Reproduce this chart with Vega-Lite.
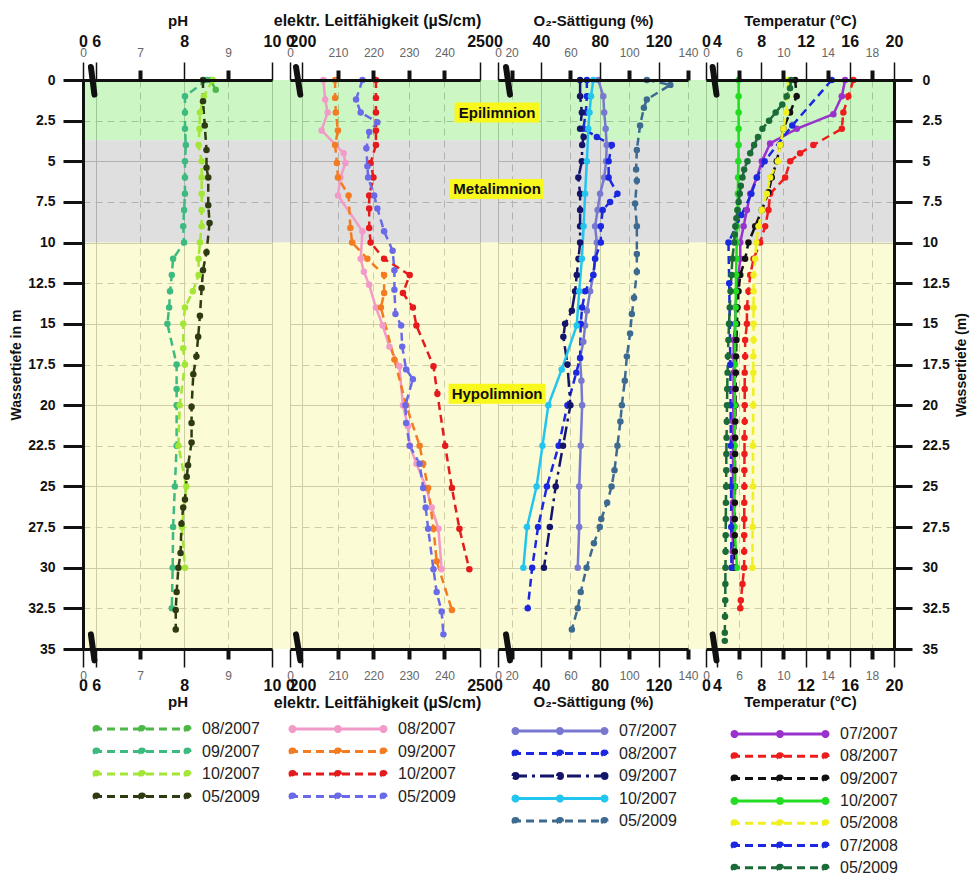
{
  "$schema": "https://vega.github.io/schema/vega-lite/v6.json",
  "background": "white",
  "padding": {"left": 9, "top": 12, "right": 5, "bottom": 5},
  "spacing": 18,
  "bounds": "flush",
  "config": {
    "font": "Liberation Sans",
    "view": {"stroke": null},
    "axis": {"labelFont": "Liberation Sans", "titleFont": "Liberation Sans"},
    "legend": {"labelFont": "Liberation Sans"},
    "text": {"font": "Liberation Sans"}
  },
  "resolve": {"scale": {"x": "independent", "color": "independent", "strokeDash": "independent", "shape": "independent"}},
  "datasets": {
    "zones": [
      {"zone": "Epilimnion", "top": 0, "bottom": 3.7},
      {"zone": "Metalimnion", "top": 3.7, "bottom": 10},
      {"zone": "Hypolimnion", "top": 10, "bottom": 35}
    ],
    "labels": [
      {"zone": "Epilimnion", "d": 2.0},
      {"zone": "Metalimnion", "d": 6.7},
      {"zone": "Hypolimnion", "d": 19.3}
    ],
    "ph": [
      {"s":"08/2007","d":0,"v":8.6},{"s":"08/2007","d":0.6,"v":8.72},
      {"s":"09/2007","d":0,"v":8.52},{"s":"09/2007","d":1,"v":8.02},{"s":"09/2007","d":2,"v":8.02},{"s":"09/2007","d":3,"v":8.02},{"s":"09/2007","d":4,"v":8.04},{"s":"09/2007","d":5,"v":8.02},{"s":"09/2007","d":6,"v":8.02},{"s":"09/2007","d":7,"v":8.02},{"s":"09/2007","d":8,"v":8.0},{"s":"09/2007","d":9,"v":7.98},{"s":"09/2007","d":10,"v":8.0},{"s":"09/2007","d":11,"v":7.75},{"s":"09/2007","d":12,"v":7.72},{"s":"09/2007","d":13,"v":7.68},{"s":"09/2007","d":14,"v":7.66},{"s":"09/2007","d":15,"v":7.62},{"s":"09/2007","d":17.5,"v":7.83},{"s":"09/2007","d":19,"v":7.83},{"s":"09/2007","d":20,"v":7.83},{"s":"09/2007","d":22.5,"v":7.83},{"s":"09/2007","d":25,"v":7.79},{"s":"09/2007","d":27.5,"v":7.75},{"s":"09/2007","d":30,"v":7.74},{"s":"09/2007","d":32.5,"v":7.72},
      {"s":"10/2007","d":0,"v":8.65},{"s":"10/2007","d":1,"v":8.45},{"s":"10/2007","d":2,"v":8.36},{"s":"10/2007","d":3,"v":8.35},{"s":"10/2007","d":4,"v":8.33},{"s":"10/2007","d":5,"v":8.4},{"s":"10/2007","d":6,"v":8.4},{"s":"10/2007","d":7,"v":8.4},{"s":"10/2007","d":8,"v":8.4},{"s":"10/2007","d":9,"v":8.4},{"s":"10/2007","d":10,"v":8.36},{"s":"10/2007","d":11,"v":8.33},{"s":"10/2007","d":12,"v":8.33},{"s":"10/2007","d":13,"v":8.2},{"s":"10/2007","d":14,"v":8.02},{"s":"10/2007","d":15,"v":7.98},{"s":"10/2007","d":16.5,"v":7.98},{"s":"10/2007","d":17.5,"v":8.02},{"s":"10/2007","d":20,"v":7.9},{"s":"10/2007","d":22.5,"v":7.87},{"s":"10/2007","d":25,"v":8.05},{"s":"10/2007","d":27.5,"v":7.95},{"s":"10/2007","d":30,"v":8.02},
      {"s":"05/2009","d":0,"v":8.43},{"s":"05/2009","d":1.3,"v":8.43},{"s":"05/2009","d":2.8,"v":8.47},{"s":"05/2009","d":4.3,"v":8.51},{"s":"05/2009","d":5.4,"v":8.51},{"s":"05/2009","d":6,"v":8.55},{"s":"05/2009","d":7.7,"v":8.55},{"s":"05/2009","d":8.8,"v":8.58},{"s":"05/2009","d":10.6,"v":8.51},{"s":"05/2009","d":11.7,"v":8.43},{"s":"05/2009","d":12.8,"v":8.4},{"s":"05/2009","d":14.5,"v":8.36},{"s":"05/2009","d":15.8,"v":8.32},{"s":"05/2009","d":17,"v":8.28},{"s":"05/2009","d":18.1,"v":8.21},{"s":"05/2009","d":20.1,"v":8.17},{"s":"05/2009","d":21.1,"v":8.17},{"s":"05/2009","d":22.3,"v":8.17},{"s":"05/2009","d":23.7,"v":8.09},{"s":"05/2009","d":24.4,"v":8.06},{"s":"05/2009","d":25.8,"v":8.02},{"s":"05/2009","d":26.3,"v":7.98},{"s":"05/2009","d":27.3,"v":7.94},{"s":"05/2009","d":29.1,"v":7.92},{"s":"05/2009","d":30,"v":7.87},{"s":"05/2009","d":31.5,"v":7.83},{"s":"05/2009","d":32.6,"v":7.81},{"s":"05/2009","d":33.8,"v":7.81}
    ],
    "cond": [
      {"s":"08/2007","d":0,"v":205.9},{"s":"08/2007","d":1.2,"v":206.4},{"s":"08/2007","d":2,"v":207.1},{"s":"08/2007","d":3.1,"v":205.4},{"s":"08/2007","d":4.5,"v":211.6},{"s":"08/2007","d":5.1,"v":212.1},{"s":"08/2007","d":6,"v":210.7},{"s":"08/2007","d":7.1,"v":210},{"s":"08/2007","d":9.3,"v":216.9},{"s":"08/2007","d":11,"v":216.4},{"s":"08/2007","d":11.8,"v":217.3},{"s":"08/2007","d":12.6,"v":218.8},{"s":"08/2007","d":14,"v":220.7},{"s":"08/2007","d":15.1,"v":222.6},{"s":"08/2007","d":16.4,"v":224.5},{"s":"08/2007","d":17.6,"v":227.3},{"s":"08/2007","d":20,"v":228.3},{"s":"08/2007","d":21.3,"v":229.7},{"s":"08/2007","d":22.5,"v":230.2},{"s":"08/2007","d":23.6,"v":232.1},{"s":"08/2007","d":25.1,"v":234.9},{"s":"08/2007","d":26.3,"v":236.4},{"s":"08/2007","d":27.6,"v":238.3},{"s":"08/2007","d":30.1,"v":239.2},
      {"s":"09/2007","d":0,"v":209.2},{"s":"09/2007","d":1.1,"v":209.2},{"s":"09/2007","d":2,"v":209.4},{"s":"09/2007","d":3.1,"v":210},{"s":"09/2007","d":4,"v":209.2},{"s":"09/2007","d":5.1,"v":209.7},{"s":"09/2007","d":6,"v":210},{"s":"09/2007","d":7.1,"v":213},{"s":"09/2007","d":9.1,"v":213.5},{"s":"09/2007","d":10,"v":214},{"s":"09/2007","d":11,"v":218.3},{"s":"09/2007","d":12,"v":223},{"s":"09/2007","d":13.1,"v":223},{"s":"09/2007","d":14,"v":222.1},{"s":"09/2007","d":17.2,"v":225.9},{"s":"09/2007","d":20,"v":229.2},{"s":"09/2007","d":22.5,"v":233},{"s":"09/2007","d":23.6,"v":234},{"s":"09/2007","d":25.1,"v":235.4},{"s":"09/2007","d":27.6,"v":236.9},{"s":"09/2007","d":29.6,"v":237.8},{"s":"09/2007","d":32.6,"v":242.1},
      {"s":"10/2007","d":0,"v":220.7},{"s":"10/2007","d":1.1,"v":220.7},{"s":"10/2007","d":2,"v":220.7},{"s":"10/2007","d":3.1,"v":220.7},{"s":"10/2007","d":4,"v":220.7},{"s":"10/2007","d":5.1,"v":219.2},{"s":"10/2007","d":6,"v":220},{"s":"10/2007","d":7.1,"v":218.8},{"s":"10/2007","d":7.9,"v":218.8},{"s":"10/2007","d":9.1,"v":218.8},{"s":"10/2007","d":10,"v":219.2},{"s":"10/2007","d":11,"v":223},{"s":"10/2007","d":12,"v":230.2},{"s":"10/2007","d":13.1,"v":228.3},{"s":"10/2007","d":14,"v":231.1},{"s":"10/2007","d":15.1,"v":232.1},{"s":"10/2007","d":17.6,"v":236.9},{"s":"10/2007","d":19.3,"v":238},{"s":"10/2007","d":22.5,"v":240.2},{"s":"10/2007","d":25.1,"v":242.1},{"s":"10/2007","d":27.6,"v":244.2},{"s":"10/2007","d":30.1,"v":247},
      {"s":"05/2009","d":0,"v":216.9},{"s":"05/2009","d":1.2,"v":215.1},{"s":"05/2009","d":2,"v":216.4},{"s":"05/2009","d":2.6,"v":221.1},{"s":"05/2009","d":3.2,"v":218.8},{"s":"05/2009","d":4.2,"v":218},{"s":"05/2009","d":5.3,"v":218.3},{"s":"05/2009","d":6,"v":218.5},{"s":"05/2009","d":7.1,"v":220.2},{"s":"05/2009","d":7.9,"v":221.1},{"s":"05/2009","d":9.3,"v":223},{"s":"05/2009","d":10.5,"v":225.4},{"s":"05/2009","d":11.7,"v":225.9},{"s":"05/2009","d":12.9,"v":225.9},{"s":"05/2009","d":14.4,"v":226.2},{"s":"05/2009","d":15.1,"v":227.8},{"s":"05/2009","d":16.4,"v":228.1},{"s":"05/2009","d":17.8,"v":229.2},{"s":"05/2009","d":18.4,"v":231.1},{"s":"05/2009","d":20,"v":229},{"s":"05/2009","d":21.1,"v":229.2},{"s":"05/2009","d":22.5,"v":230.2},{"s":"05/2009","d":23.6,"v":233},{"s":"05/2009","d":25.1,"v":234},{"s":"05/2009","d":26.3,"v":234.7},{"s":"05/2009","d":27.6,"v":235.4},{"s":"05/2009","d":30.1,"v":236.9},{"s":"05/2009","d":31.5,"v":237.8},{"s":"05/2009","d":32.7,"v":239.2},{"s":"05/2009","d":34.1,"v":239.7}
    ],
    "o2": [
      {"s":"07/2007","d":0,"v":79},{"s":"07/2007","d":1,"v":82.4},{"s":"07/2007","d":2,"v":83},{"s":"07/2007","d":3,"v":84},{"s":"07/2007","d":4,"v":84.7},{"s":"07/2007","d":5,"v":84.3},{"s":"07/2007","d":6,"v":83},{"s":"07/2007","d":7,"v":80.2},{"s":"07/2007","d":8,"v":78.5},{"s":"07/2007","d":9,"v":76.8},{"s":"07/2007","d":10,"v":78},{"s":"07/2007","d":11,"v":76.8},{"s":"07/2007","d":12,"v":75.6},{"s":"07/2007","d":13,"v":73.4},{"s":"07/2007","d":14.2,"v":71.2},{"s":"07/2007","d":15.1,"v":70},{"s":"07/2007","d":16.1,"v":68.8},{"s":"07/2007","d":17.1,"v":66.6},{"s":"07/2007","d":18.5,"v":67.5},{"s":"07/2007","d":20,"v":68},{"s":"07/2007","d":22.5,"v":67},{"s":"07/2007","d":25,"v":66},{"s":"07/2007","d":27.5,"v":66},{"s":"07/2007","d":30,"v":65},
      {"s":"08/2007","d":0,"v":71.2},{"s":"08/2007","d":1,"v":71.2},{"s":"08/2007","d":2,"v":70.5},{"s":"08/2007","d":3,"v":68.8},{"s":"08/2007","d":3.5,"v":78},{"s":"08/2007","d":4,"v":88.2},{"s":"08/2007","d":5,"v":86},{"s":"08/2007","d":6,"v":86},{"s":"08/2007","d":7,"v":92},{"s":"08/2007","d":7.5,"v":87},{"s":"08/2007","d":8,"v":82},{"s":"08/2007","d":9,"v":80.7},{"s":"08/2007","d":10,"v":80.7},{"s":"08/2007","d":11,"v":76.8},{"s":"08/2007","d":12,"v":75.6},{"s":"08/2007","d":13,"v":70},{"s":"08/2007","d":14,"v":68},{"s":"08/2007","d":15,"v":67},{"s":"08/2007","d":17.1,"v":66.6},{"s":"08/2007","d":18,"v":64},{"s":"08/2007","d":20,"v":58},{"s":"08/2007","d":22.5,"v":52},{"s":"08/2007","d":25,"v":44},{"s":"08/2007","d":27.5,"v":38},{"s":"08/2007","d":30,"v":34},{"s":"08/2007","d":32.5,"v":31},
      {"s":"09/2007","d":0,"v":66.6},{"s":"09/2007","d":1,"v":66.6},{"s":"09/2007","d":2,"v":67.8},{"s":"09/2007","d":3,"v":66.6},{"s":"09/2007","d":3.5,"v":69},{"s":"09/2007","d":4,"v":68},{"s":"09/2007","d":5,"v":67.8},{"s":"09/2007","d":6,"v":65.4},{"s":"09/2007","d":7,"v":66.6},{"s":"09/2007","d":8,"v":66.6},{"s":"09/2007","d":9,"v":66.6},{"s":"09/2007","d":10,"v":66.6},{"s":"09/2007","d":11,"v":65.5},{"s":"09/2007","d":12,"v":64.3},{"s":"09/2007","d":13,"v":63.2},{"s":"09/2007","d":14.2,"v":61},{"s":"09/2007","d":15,"v":56.4},{"s":"09/2007","d":15.8,"v":55.2},{"s":"09/2007","d":17.5,"v":58},{"s":"09/2007","d":20,"v":60},{"s":"09/2007","d":22.5,"v":55},{"s":"09/2007","d":25,"v":50},{"s":"09/2007","d":27.5,"v":46},{"s":"09/2007","d":30,"v":42},
      {"s":"10/2007","d":0,"v":75.6},{"s":"10/2007","d":1,"v":74},{"s":"10/2007","d":2,"v":73},{"s":"10/2007","d":3,"v":72.2},{"s":"10/2007","d":5,"v":71.2},{"s":"10/2007","d":7,"v":70},{"s":"10/2007","d":9,"v":69},{"s":"10/2007","d":11,"v":67.8},{"s":"10/2007","d":13,"v":66},{"s":"10/2007","d":15.1,"v":64.3},{"s":"10/2007","d":17.8,"v":54.1},{"s":"10/2007","d":20,"v":45},{"s":"10/2007","d":22.5,"v":41},{"s":"10/2007","d":25,"v":37},{"s":"10/2007","d":27.5,"v":30.5},{"s":"10/2007","d":30,"v":28},
      {"s":"05/2009","d":0,"v":112},{"s":"05/2009","d":0.3,"v":128},{"s":"05/2009","d":1.2,"v":112},{"s":"05/2009","d":1.7,"v":110},{"s":"05/2009","d":2.8,"v":107.4},{"s":"05/2009","d":4.3,"v":105.2},{"s":"05/2009","d":5.5,"v":104.7},{"s":"05/2009","d":6.2,"v":105.2},{"s":"05/2009","d":7.6,"v":104},{"s":"05/2009","d":9,"v":105.2},{"s":"05/2009","d":10.7,"v":105.2},{"s":"05/2009","d":11.8,"v":105.2},{"s":"05/2009","d":13.4,"v":103.3},{"s":"05/2009","d":14.4,"v":101.8},{"s":"05/2009","d":15.6,"v":100.6},{"s":"05/2009","d":17,"v":98.4},{"s":"05/2009","d":18.5,"v":97},{"s":"05/2009","d":20,"v":95},{"s":"05/2009","d":21,"v":94},{"s":"05/2009","d":22.5,"v":92},{"s":"05/2009","d":24,"v":90},{"s":"05/2009","d":25,"v":88},{"s":"05/2009","d":26,"v":85},{"s":"05/2009","d":27,"v":81},{"s":"05/2009","d":27.5,"v":80},{"s":"05/2009","d":28.5,"v":76},{"s":"05/2009","d":30,"v":71},{"s":"05/2009","d":31.5,"v":67},{"s":"05/2009","d":32.5,"v":65},{"s":"05/2009","d":33.8,"v":61}
    ],
    "temp": [
      {"s":"07/2007","d":0,"v":15.58},{"s":"07/2007","d":1,"v":15.28},{"s":"07/2007","d":2.1,"v":14.52},{"s":"07/2007","d":3,"v":11.21},{"s":"07/2007","d":3.9,"v":8.8},{"s":"07/2007","d":5,"v":8.05},{"s":"07/2007","d":6,"v":7.6},{"s":"07/2007","d":7,"v":7.0},{"s":"07/2007","d":8,"v":6.7},{"s":"07/2007","d":9,"v":6.4},{"s":"07/2007","d":10,"v":6.1},{"s":"07/2007","d":11,"v":6.1},{"s":"07/2007","d":12,"v":5.94},{"s":"07/2007","d":13,"v":5.8},{"s":"07/2007","d":14,"v":5.65},{"s":"07/2007","d":15,"v":5.65},{"s":"07/2007","d":16,"v":5.5},{"s":"07/2007","d":17,"v":5.5},{"s":"07/2007","d":18,"v":5.5},{"s":"07/2007","d":19,"v":5.48},{"s":"07/2007","d":20,"v":5.47},{"s":"07/2007","d":21,"v":5.46},{"s":"07/2007","d":22,"v":5.45},{"s":"07/2007","d":23,"v":5.45},{"s":"07/2007","d":24,"v":5.44},{"s":"07/2007","d":25,"v":5.44},{"s":"07/2007","d":26,"v":5.43},{"s":"07/2007","d":27,"v":5.43},{"s":"07/2007","d":28,"v":5.42},{"s":"07/2007","d":29,"v":5.42},{"s":"07/2007","d":30,"v":5.42},
      {"s":"08/2007","d":0,"v":16.33},{"s":"08/2007","d":1,"v":15.87},{"s":"08/2007","d":2,"v":15.42},{"s":"08/2007","d":3,"v":15.28},{"s":"08/2007","d":4,"v":12.71},{"s":"08/2007","d":4.5,"v":11.51},{"s":"08/2007","d":5,"v":10.61},{"s":"08/2007","d":6,"v":10.16},{"s":"08/2007","d":7,"v":8.8},{"s":"08/2007","d":8,"v":8.65},{"s":"08/2007","d":9,"v":8.35},{"s":"08/2007","d":10,"v":7.9},{"s":"08/2007","d":11,"v":7.3},{"s":"08/2007","d":12,"v":7.0},{"s":"08/2007","d":13,"v":6.84},{"s":"08/2007","d":14,"v":6.7},{"s":"08/2007","d":15,"v":6.7},{"s":"08/2007","d":16,"v":6.54},{"s":"08/2007","d":17,"v":6.54},{"s":"08/2007","d":18,"v":6.5},{"s":"08/2007","d":19,"v":6.5},{"s":"08/2007","d":20,"v":6.5},{"s":"08/2007","d":21,"v":6.5},{"s":"08/2007","d":22,"v":6.48},{"s":"08/2007","d":23,"v":6.48},{"s":"08/2007","d":24,"v":6.47},{"s":"08/2007","d":25,"v":6.47},{"s":"08/2007","d":26,"v":6.46},{"s":"08/2007","d":27,"v":6.46},{"s":"08/2007","d":28,"v":6.45},{"s":"08/2007","d":29,"v":6.45},{"s":"08/2007","d":30,"v":6.45},{"s":"08/2007","d":31,"v":6.3},{"s":"08/2007","d":32,"v":6.15},{"s":"08/2007","d":32.5,"v":6.1},
      {"s":"09/2007","d":0,"v":11.06},{"s":"09/2007","d":1,"v":11.2},{"s":"09/2007","d":2,"v":10.6},{"s":"09/2007","d":3,"v":10.0},{"s":"09/2007","d":4,"v":9.7},{"s":"09/2007","d":5,"v":9.4},{"s":"09/2007","d":6,"v":8.95},{"s":"09/2007","d":6.9,"v":8.65},{"s":"09/2007","d":8,"v":8.05},{"s":"09/2007","d":9,"v":7.45},{"s":"09/2007","d":10,"v":6.84},{"s":"09/2007","d":11,"v":6.54},{"s":"09/2007","d":12,"v":6.1},{"s":"09/2007","d":13,"v":5.94},{"s":"09/2007","d":14,"v":5.85},{"s":"09/2007","d":15,"v":5.8},{"s":"09/2007","d":16,"v":5.75},{"s":"09/2007","d":17,"v":5.72},{"s":"09/2007","d":18,"v":5.7},{"s":"09/2007","d":19,"v":5.68},{"s":"09/2007","d":20,"v":5.66},{"s":"09/2007","d":21,"v":5.65},{"s":"09/2007","d":22,"v":5.64},{"s":"09/2007","d":23,"v":5.63},{"s":"09/2007","d":24,"v":5.62},{"s":"09/2007","d":25,"v":5.62},{"s":"09/2007","d":26,"v":5.61},{"s":"09/2007","d":27,"v":5.6},{"s":"09/2007","d":28,"v":5.6},{"s":"09/2007","d":29,"v":5.6},{"s":"09/2007","d":30,"v":5.6},
      {"s":"10/2007","d":0,"v":5.95},{"s":"10/2007","d":1,"v":5.95},{"s":"10/2007","d":2,"v":5.95},{"s":"10/2007","d":3,"v":5.95},{"s":"10/2007","d":4,"v":5.95},{"s":"10/2007","d":5,"v":5.92},{"s":"10/2007","d":6,"v":5.9},{"s":"10/2007","d":7,"v":5.88},{"s":"10/2007","d":8,"v":5.85},{"s":"10/2007","d":9,"v":5.8},{"s":"10/2007","d":10,"v":5.78},{"s":"10/2007","d":11,"v":5.75},{"s":"10/2007","d":12,"v":5.72},{"s":"10/2007","d":13,"v":5.7},{"s":"10/2007","d":14,"v":5.68},{"s":"10/2007","d":15,"v":5.66},{"s":"10/2007","d":17.5,"v":5.62},{"s":"10/2007","d":20,"v":5.6},{"s":"10/2007","d":22.5,"v":5.6},{"s":"10/2007","d":25,"v":5.58},{"s":"10/2007","d":27.5,"v":5.58},{"s":"10/2007","d":30,"v":5.8},
      {"s":"05/2008","d":0,"v":10.45},{"s":"05/2008","d":1,"v":10.35},{"s":"05/2008","d":2,"v":10.25},{"s":"05/2008","d":3,"v":10.0},{"s":"05/2008","d":4,"v":9.7},{"s":"05/2008","d":5,"v":9.5},{"s":"05/2008","d":6,"v":8.8},{"s":"05/2008","d":7,"v":8.5},{"s":"05/2008","d":8,"v":8.05},{"s":"05/2008","d":9,"v":7.75},{"s":"05/2008","d":10,"v":7.54},{"s":"05/2008","d":11,"v":7.45},{"s":"05/2008","d":12,"v":7.3},{"s":"05/2008","d":13,"v":7.3},{"s":"05/2008","d":14,"v":7.3},{"s":"05/2008","d":15,"v":7.3},{"s":"05/2008","d":16,"v":7.3},{"s":"05/2008","d":17,"v":7.28},{"s":"05/2008","d":18,"v":7.28},{"s":"05/2008","d":20,"v":7.27},{"s":"05/2008","d":22.5,"v":7.25},{"s":"05/2008","d":25,"v":7.25},{"s":"05/2008","d":27.5,"v":7.22},{"s":"05/2008","d":30,"v":7.2},
      {"s":"07/2008","d":0,"v":14.37},{"s":"07/2008","d":2.8,"v":10.8},{"s":"07/2008","d":5,"v":8.3},{"s":"07/2008","d":6,"v":7.6},{"s":"07/2008","d":7,"v":7.1},{"s":"07/2008","d":8.3,"v":6.2},{"s":"07/2008","d":10,"v":5.03},{"s":"07/2008","d":12.5,"v":5.1},{"s":"07/2008","d":15,"v":5.15},{"s":"07/2008","d":17.5,"v":5.2},{"s":"07/2008","d":20,"v":5.22},{"s":"07/2008","d":22.5,"v":5.25},{"s":"07/2008","d":25,"v":5.27},{"s":"07/2008","d":27.5,"v":5.28},{"s":"07/2008","d":30,"v":5.3},
      {"s":"05/2009","d":0,"v":10.7},{"s":"05/2009","d":0.5,"v":10.6},{"s":"05/2009","d":1,"v":10.3},{"s":"05/2009","d":1.5,"v":9.9},{"s":"05/2009","d":2,"v":9.3},{"s":"05/2009","d":2.5,"v":8.7},{"s":"05/2009","d":3,"v":8.1},{"s":"05/2009","d":3.5,"v":7.7},{"s":"05/2009","d":4,"v":7.35},{"s":"05/2009","d":4.5,"v":7.0},{"s":"05/2009","d":5,"v":6.75},{"s":"05/2009","d":5.5,"v":6.45},{"s":"05/2009","d":6,"v":6.3},{"s":"05/2009","d":6.5,"v":6.15},{"s":"05/2009","d":7,"v":6.05},{"s":"05/2009","d":7.5,"v":5.95},{"s":"05/2009","d":8,"v":5.85},{"s":"05/2009","d":8.5,"v":5.75},{"s":"05/2009","d":9,"v":5.65},{"s":"05/2009","d":9.5,"v":5.6},{"s":"05/2009","d":10,"v":5.55},{"s":"05/2009","d":11,"v":5.38},{"s":"05/2009","d":12,"v":5.3},{"s":"05/2009","d":13,"v":5.22},{"s":"05/2009","d":14,"v":5.15},{"s":"05/2009","d":15,"v":5.08},{"s":"05/2009","d":16,"v":5.03},{"s":"05/2009","d":17,"v":4.98},{"s":"05/2009","d":18,"v":4.95},{"s":"05/2009","d":19,"v":4.92},{"s":"05/2009","d":20,"v":4.9},{"s":"05/2009","d":21,"v":4.88},{"s":"05/2009","d":22,"v":4.86},{"s":"05/2009","d":23,"v":4.84},{"s":"05/2009","d":24,"v":4.83},{"s":"05/2009","d":25,"v":4.82},{"s":"05/2009","d":26,"v":4.8},{"s":"05/2009","d":27,"v":4.79},{"s":"05/2009","d":28,"v":4.78},{"s":"05/2009","d":29,"v":4.77},{"s":"05/2009","d":30,"v":4.76},{"s":"05/2009","d":31,"v":4.75},{"s":"05/2009","d":32,"v":4.74},{"s":"05/2009","d":33,"v":4.72},{"s":"05/2009","d":34,"v":4.7},{"s":"05/2009","d":34.5,"v":4.7}
    ]
  },
  "hconcat": [
    {
      "width": 189, "height": 569,
      "data": {"name": "ph"},
      "resolve": {"axis": {"x": "independent", "y": "independent"}},
      "layer": [
        {"data": {"name": "zones"}, "mark": {"type": "rect", "opacity": 0.55},
         "encoding": {
           "x": {"datum": 5.7, "type": "quantitative", "axis": null},
           "x2": {"datum": 10.41},
           "y": {"field": "top", "type": "quantitative", "scale": {"domain": [0, 35], "reverse": true, "nice": false, "zero": false}, "axis": null},
           "y2": {"field": "bottom"},
           "fill": {"field": "zone", "type": "nominal", "scale": {"domain": ["Epilimnion", "Metalimnion", "Hypolimnion"], "range": ["#a2f094", "#c4c4c4", "#f8f8b4"]}, "legend": null}
         }},
        {"mark": {"type": "point", "opacity": 0},
         "encoding": {
           "x": {"field": "v", "type": "quantitative", "scale": {"domain": [5.7, 10], "nice": false, "zero": false}, "axis": {"orient": "top", "values": [5.7, 6, 8, 10], "grid": true, "gridColor": "#999999", "domain": false, "ticks": false, "labels": false, "title": null, "zindex": 0}},
           "y": {"field": "d", "type": "quantitative", "axis": {"orient": "left", "values": [5, 10, 15, 20, 25, 30], "grid": true, "gridColor": "#999999", "domain": false, "ticks": false, "labels": false, "title": null, "zindex": 0}}
         }},
        {"mark": {"type": "point", "opacity": 0},
         "encoding": {
           "x": {"field": "v", "type": "quantitative", "axis": {"orient": "top", "values": [7, 9], "grid": true, "gridColor": "#999999", "gridDash": [7, 5], "domain": false, "ticks": false, "labels": false, "title": null, "zindex": 0}},
           "y": {"field": "d", "type": "quantitative", "axis": {"orient": "left", "values": [2.5, 7.5, 12.5, 17.5, 22.5, 27.5, 32.5], "grid": true, "gridColor": "#999999", "gridDash": [7, 5], "domain": false, "ticks": false, "labels": false, "title": null, "zindex": 0}}
         }},
        {"mark": {"type": "line", "strokeWidth": 2.5},
         "encoding": {
           "x": {"field": "v", "type": "quantitative", "axis": {"orient": "top", "values": [5.7, 6, 8, 10], "format": "d", "labelExpr": "datum.value < 5.75 ? '0' : datum.label", "title": "pH", "titleFontSize": 15, "titleFontWeight": "bold", "titleColor": "#111", "titlePadding": 5, "labelFontSize": 16, "labelFontWeight": "bold", "labelColor": "#111", "labelPadding": 13, "labelFlush": false, "labelOverlap": false, "labelBound": false, "tickSize": 18, "tickWidth": 1.5, "tickColor": "#111", "domain": true, "domainColor": "#111", "domainWidth": 3, "grid": false, "zindex": 1}},
           "y": {"field": "d", "type": "quantitative", "axis": {"orient": "left", "values": [0, 2.5, 5, 7.5, 10, 12.5, 15, 17.5, 20, 22.5, 25, 27.5, 30, 32.5, 35], "format": ".3~g", "title": "Wassertiefe in m", "titleFontSize": 14, "titleFontWeight": "bold", "titleColor": "#111", "titlePadding": 4, "labelFontSize": 14, "labelFontWeight": "bold", "labelColor": "#111", "labelPadding": 8, "labelFlush": false, "labelOverlap": false, "tickSize": 20, "tickWidth": 3, "tickColor": "#111", "domain": true, "domainColor": "#111", "domainWidth": 3, "grid": false, "zindex": 1}},
           "order": {"field": "d", "type": "quantitative"},
           "color": {"field": "s", "type": "nominal", "scale": {"domain": ["08/2007", "09/2007", "10/2007", "05/2009"], "range": ["#4cb848", "#3dba80", "#a3e635", "#2e3a12"]},
             "legend": {"orient": "none", "legendX": 14, "legendY": 641, "direction": "vertical", "title": null, "padding": 0,
               "symbolType": "M-9.6,0L9.6,0M-9.6,0A0.5,0.5 0 1,1 -8.6,0A0.5,0.5 0 1,1 -9.6,0ZM-0.5,0A0.5,0.5 0 1,1 0.5,0A0.5,0.5 0 1,1 -0.5,0ZM8.6,0A0.5,0.5 0 1,1 9.6,0A0.5,0.5 0 1,1 8.6,0Z",
               "symbolSize": 100, "symbolStrokeWidth": 3, "symbolOffset": 37, "labelFontSize": 16, "labelColor": "#222", "labelOffset": 52, "rowPadding": 4.5,
               "encode": {"symbols": {"update": {"fill": {"signal": "datum.value=='08/2007'?'#4cb848':datum.value=='09/2007'?'#3dba80':datum.value=='10/2007'?'#a3e635':'#2e3a12'"}, "strokeDash": {"value": [14, 9]}}}}}},
           "strokeDash": {"field": "s", "type": "nominal", "scale": {"domain": ["08/2007", "09/2007", "10/2007", "05/2009"], "range": [[8, 5], [8, 5], [8, 5], [8, 5]]}, "legend": null}
         }},
        {"mark": {"type": "point", "filled": true, "size": 42, "opacity": 1},
         "encoding": {
           "x": {"field": "v", "type": "quantitative", "axis": {"orient": "bottom", "values": [5.7, 6, 8, 10], "format": "d", "labelExpr": "datum.value < 5.75 ? '0' : datum.label", "title": "pH", "titleFontSize": 15, "titleFontWeight": "bold", "titleColor": "#111", "titlePadding": 1, "labelFontSize": 16, "labelFontWeight": "bold", "labelColor": "#111", "labelPadding": 10, "labelFlush": false, "labelOverlap": false, "labelBound": false, "tickSize": 18, "tickWidth": 1.5, "tickColor": "#111", "domain": true, "domainColor": "#111", "domainWidth": 3, "grid": false, "zindex": 1}},
           "y": {"field": "d", "type": "quantitative", "axis": null},
           "color": {"field": "s", "type": "nominal", "legend": null}
         }},
        {"data": {"values": [{}]}, "mark": {"type": "rule", "strokeWidth": 6, "color": "#111", "strokeCap": "round"},
         "encoding": {
           "x": {"datum": 5.88, "type": "quantitative", "axis": {"orient": "top", "values": [5.7, 7, 9], "format": "d", "labelExpr": "datum.value < 5.75 ? '0' : datum.label", "title": null, "labelFontSize": 12, "labelColor": "#666", "labelPadding": 11, "labelFlush": false, "labelOverlap": false, "tickSize": 10, "tickWidth": 4, "tickColor": "#111", "tickOpacity": {"condition": {"test": "datum.value < 5.75", "value": 0}, "value": 1}, "domain": false, "grid": false, "zindex": 1}},
           "x2": {"datum": 5.96},
           "y": {"datum": -0.8, "type": "quantitative", "axis": null},
           "y2": {"datum": 0.9}
         }},
        {"data": {"values": [{}]}, "mark": {"type": "rule", "strokeWidth": 6, "color": "#111", "strokeCap": "round"},
         "encoding": {
           "x": {"datum": 5.88, "type": "quantitative", "axis": {"orient": "bottom", "values": [5.7, 7, 9], "format": "d", "labelExpr": "datum.value < 5.75 ? '0' : datum.label", "title": null, "labelFontSize": 12, "labelColor": "#666", "labelPadding": 11, "labelFlush": false, "labelOverlap": false, "tickSize": 10, "tickWidth": 4, "tickColor": "#111", "tickOpacity": {"condition": {"test": "datum.value < 5.75", "value": 0}, "value": 1}, "domain": false, "grid": false, "zindex": 1}},
           "x2": {"datum": 5.96},
           "y": {"datum": 34.1, "type": "quantitative", "axis": null},
           "y2": {"datum": 35.7}
         }}
      ]
    },
    {
      "width": 190, "height": 569,
      "data": {"name": "cond"},
      "resolve": {"axis": {"x": "independent", "y": "independent"}},
      "layer": [
        {"data": {"name": "zones"}, "mark": {"type": "rect", "opacity": 0.55},
         "encoding": {
           "x": {"datum": 196.5, "type": "quantitative", "axis": null},
           "x2": {"datum": 255.1},
           "y": {"field": "top", "type": "quantitative", "scale": {"domain": [0, 35], "reverse": true, "nice": false, "zero": false}, "axis": null},
           "y2": {"field": "bottom"},
           "fill": {"field": "zone", "type": "nominal", "scale": {"domain": ["Epilimnion", "Metalimnion", "Hypolimnion"], "range": ["#a2f094", "#c4c4c4", "#f8f8b4"]}, "legend": null}
         }},
        {"mark": {"type": "point", "opacity": 0},
         "encoding": {
           "x": {"field": "v", "type": "quantitative", "scale": {"domain": [196.5, 250], "nice": false, "zero": false}, "axis": {"orient": "top", "values": [196.5, 200, 250], "grid": true, "gridColor": "#999999", "domain": false, "ticks": false, "labels": false, "title": null, "zindex": 0}},
           "y": {"field": "d", "type": "quantitative", "axis": {"orient": "left", "values": [5, 10, 15, 20, 25, 30], "grid": true, "gridColor": "#999999", "domain": false, "ticks": false, "labels": false, "title": null, "zindex": 0}}
         }},
        {"mark": {"type": "point", "opacity": 0},
         "encoding": {
           "x": {"field": "v", "type": "quantitative", "axis": {"orient": "top", "values": [210, 220, 230, 240], "grid": true, "gridColor": "#999999", "gridDash": [7, 5], "domain": false, "ticks": false, "labels": false, "title": null, "zindex": 0}},
           "y": {"field": "d", "type": "quantitative", "axis": {"orient": "left", "values": [2.5, 7.5, 12.5, 17.5, 22.5, 27.5, 32.5], "grid": true, "gridColor": "#999999", "gridDash": [7, 5], "domain": false, "ticks": false, "labels": false, "title": null, "zindex": 0}}
         }},
        {"mark": {"type": "line", "strokeWidth": 2.5},
         "encoding": {
           "x": {"field": "v", "type": "quantitative", "axis": {"orient": "top", "values": [196.5, 200, 250], "format": "d", "labelExpr": "datum.value < 197 ? '0' : datum.label", "title": "elektr. Leitfähigkeit (µS/cm)", "titleX": 87, "titleFontSize": 16, "titleFontWeight": "bold", "titleColor": "#111", "titlePadding": 5, "labelFontSize": 16, "labelFontWeight": "bold", "labelColor": "#111", "labelPadding": 13, "labelFlush": false, "labelOverlap": false, "labelBound": false, "tickSize": 18, "tickWidth": 1.5, "tickColor": "#111", "domain": true, "domainColor": "#111", "domainWidth": 3, "grid": false, "zindex": 1}},
           "y": {"field": "d", "type": "quantitative", "axis": null},
           "order": {"field": "d", "type": "quantitative"},
           "color": {"field": "s", "type": "nominal", "scale": {"domain": ["08/2007", "09/2007", "10/2007", "05/2009"], "range": ["#f29ac8", "#f37b21", "#e41a1c", "#6a6ae8"]},
             "legend": {"orient": "none", "legendX": 3, "legendY": 641, "direction": "vertical", "title": null, "padding": 0,
               "symbolType": "M-9.6,0L9.6,0M-9.6,0A0.5,0.5 0 1,1 -8.6,0A0.5,0.5 0 1,1 -9.6,0ZM-0.5,0A0.5,0.5 0 1,1 0.5,0A0.5,0.5 0 1,1 -0.5,0ZM8.6,0A0.5,0.5 0 1,1 9.6,0A0.5,0.5 0 1,1 8.6,0Z",
               "symbolSize": 100, "symbolStrokeWidth": 3, "symbolOffset": 37, "labelFontSize": 16, "labelColor": "#222", "labelOffset": 52, "rowPadding": 4.5,
               "encode": {"symbols": {"update": {"fill": {"signal": "datum.value=='08/2007'?'#f29ac8':datum.value=='09/2007'?'#f37b21':datum.value=='10/2007'?'#e41a1c':'#6a6ae8'"}, "strokeDash": {"signal": "datum.value=='08/2007' ? [1,0] : [14,9]"}}}}}},
           "strokeDash": {"field": "s", "type": "nominal", "scale": {"domain": ["08/2007", "09/2007", "10/2007", "05/2009"], "range": [[1, 0], [8, 5], [8, 5], [8, 5]]}, "legend": null}
         }},
        {"mark": {"type": "point", "filled": true, "size": 42, "opacity": 1},
         "encoding": {
           "x": {"field": "v", "type": "quantitative", "axis": {"orient": "bottom", "values": [196.5, 200, 250], "format": "d", "labelExpr": "datum.value < 197 ? '0' : datum.label", "title": "elektr. Leitfähigkeit (µS/cm)", "titleX": 87, "titleFontSize": 16, "titleFontWeight": "bold", "titleColor": "#111", "titlePadding": 1, "labelFontSize": 16, "labelFontWeight": "bold", "labelColor": "#111", "labelPadding": 10, "labelFlush": false, "labelOverlap": false, "labelBound": false, "tickSize": 18, "tickWidth": 1.5, "tickColor": "#111", "domain": true, "domainColor": "#111", "domainWidth": 3, "grid": false, "zindex": 1}},
           "y": {"field": "d", "type": "quantitative", "axis": null},
           "color": {"field": "s", "type": "nominal", "legend": null}
         }},
        {"data": {"values": [{}]}, "mark": {"type": "rule", "strokeWidth": 6, "color": "#111", "strokeCap": "round"},
         "encoding": {
           "x": {"datum": 198.2, "type": "quantitative", "axis": {"orient": "top", "values": [196.5, 210, 220, 230, 240], "format": "d", "labelExpr": "datum.value < 197 ? '0' : datum.label", "title": null, "labelFontSize": 12, "labelColor": "#666", "labelPadding": 11, "labelFlush": false, "labelOverlap": false, "tickSize": 10, "tickWidth": 4, "tickColor": "#111", "tickOpacity": {"condition": {"test": "datum.value < 197", "value": 0}, "value": 1}, "domain": false, "grid": false, "zindex": 1}},
           "x2": {"datum": 199.4},
           "y": {"datum": -0.8, "type": "quantitative", "axis": null},
           "y2": {"datum": 0.9}
         }},
        {"data": {"values": [{}]}, "mark": {"type": "rule", "strokeWidth": 6, "color": "#111", "strokeCap": "round"},
         "encoding": {
           "x": {"datum": 198.2, "type": "quantitative", "axis": {"orient": "bottom", "values": [196.5, 210, 220, 230, 240], "format": "d", "labelExpr": "datum.value < 197 ? '0' : datum.label", "title": null, "labelFontSize": 12, "labelColor": "#666", "labelPadding": 11, "labelFlush": false, "labelOverlap": false, "tickSize": 10, "tickWidth": 4, "tickColor": "#111", "tickOpacity": {"condition": {"test": "datum.value < 197", "value": 0}, "value": 1}, "domain": false, "grid": false, "zindex": 1}},
           "x2": {"datum": 199.4},
           "y": {"datum": 34.1, "type": "quantitative", "axis": null},
           "y2": {"datum": 35.7}
         }}
      ]
    },
    {
      "width": 190, "height": 569,
      "data": {"name": "o2"},
      "resolve": {"axis": {"x": "independent", "y": "independent"}},
      "layer": [
        {"data": {"name": "zones"}, "mark": {"type": "rect", "opacity": 0.55},
         "encoding": {
           "x": {"datum": 10.75, "type": "quantitative", "axis": null},
           "x2": {"datum": 152.3},
           "y": {"field": "top", "type": "quantitative", "scale": {"domain": [0, 35], "reverse": true, "nice": false, "zero": false}, "axis": null},
           "y2": {"field": "bottom"},
           "fill": {"field": "zone", "type": "nominal", "scale": {"domain": ["Epilimnion", "Metalimnion", "Hypolimnion"], "range": ["#a2f094", "#c4c4c4", "#f8f8b4"]}, "legend": null}
         }},
        {"mark": {"type": "point", "opacity": 0},
         "encoding": {
           "x": {"field": "v", "type": "quantitative", "scale": {"domain": [10.75, 140], "nice": false, "zero": false}, "axis": {"orient": "top", "values": [10.75, 40, 80, 120], "grid": true, "gridColor": "#999999", "domain": false, "ticks": false, "labels": false, "title": null, "zindex": 0}},
           "y": {"field": "d", "type": "quantitative", "axis": {"orient": "left", "values": [5, 10, 15, 20, 25, 30], "grid": true, "gridColor": "#999999", "domain": false, "ticks": false, "labels": false, "title": null, "zindex": 0}}
         }},
        {"mark": {"type": "point", "opacity": 0},
         "encoding": {
           "x": {"field": "v", "type": "quantitative", "axis": {"orient": "top", "values": [20, 60, 100, 140], "grid": true, "gridColor": "#999999", "gridDash": [7, 5], "domain": false, "ticks": false, "labels": false, "title": null, "zindex": 0}},
           "y": {"field": "d", "type": "quantitative", "axis": {"orient": "left", "values": [2.5, 7.5, 12.5, 17.5, 22.5, 27.5, 32.5], "grid": true, "gridColor": "#999999", "gridDash": [7, 5], "domain": false, "ticks": false, "labels": false, "title": null, "zindex": 0}}
         }},
        {"mark": {"type": "line", "strokeWidth": 2.5},
         "encoding": {
           "x": {"field": "v", "type": "quantitative", "axis": {"orient": "top", "values": [10.75, 40, 80, 120], "format": "d", "labelExpr": "datum.value < 11 ? '0' : datum.label", "title": "O₂-Sättigung (%)", "titleFontSize": 15, "titleFontWeight": "bold", "titleColor": "#111", "titlePadding": 5, "labelFontSize": 16, "labelFontWeight": "bold", "labelColor": "#111", "labelPadding": 13, "labelFlush": false, "labelOverlap": false, "labelBound": false, "tickSize": 18, "tickWidth": 1.5, "tickColor": "#111", "domain": true, "domainColor": "#111", "domainWidth": 3, "grid": false, "zindex": 1}},
           "y": {"field": "d", "type": "quantitative", "axis": null},
           "order": {"field": "d", "type": "quantitative"},
           "color": {"field": "s", "type": "nominal", "scale": {"domain": ["07/2007", "08/2007", "09/2007", "10/2007", "05/2009"], "range": ["#7878d0", "#1c28e0", "#14146a", "#22c5ee", "#3c6a90"]},
             "legend": {"orient": "none", "legendX": 18, "legendY": 643, "direction": "vertical", "title": null, "padding": 0,
               "symbolType": "M-9.4,0L9.4,0M-9.4,0A0.5,0.5 0 1,1 -8.4,0A0.5,0.5 0 1,1 -9.4,0ZM-0.5,0A0.5,0.5 0 1,1 0.5,0A0.5,0.5 0 1,1 -0.5,0ZM8.4,0A0.5,0.5 0 1,1 9.4,0A0.5,0.5 0 1,1 8.4,0Z",
               "symbolSize": 100, "symbolStrokeWidth": 3, "symbolOffset": 36, "labelFontSize": 16, "labelColor": "#222", "labelOffset": 51, "rowPadding": 4.5,
               "encode": {"symbols": {"update": {"fill": {"signal": "datum.value=='07/2007'?'#7878d0':datum.value=='08/2007'?'#1c28e0':datum.value=='09/2007'?'#14146a':datum.value=='10/2007'?'#22c5ee':'#3c6a90'"}, "strokeDash": {"signal": "datum.value=='07/2007' || datum.value=='10/2007' ? [1,0] : datum.value=='09/2007' ? [30,14,3,14] : [14,9]"}}}}}},
           "strokeDash": {"field": "s", "type": "nominal", "scale": {"domain": ["07/2007", "08/2007", "09/2007", "10/2007", "05/2009"], "range": [[1, 0], [8, 5], [14, 5, 3, 5], [1, 0], [8, 5]]}, "legend": null}
         }},
        {"mark": {"type": "point", "filled": true, "size": 42, "opacity": 1},
         "encoding": {
           "x": {"field": "v", "type": "quantitative", "axis": {"orient": "bottom", "values": [10.75, 40, 80, 120], "format": "d", "labelExpr": "datum.value < 11 ? '0' : datum.label", "title": "O₂-Sättigung (%)", "titleFontSize": 15, "titleFontWeight": "bold", "titleColor": "#111", "titlePadding": 1, "labelFontSize": 16, "labelFontWeight": "bold", "labelColor": "#111", "labelPadding": 10, "labelFlush": false, "labelOverlap": false, "labelBound": false, "tickSize": 18, "tickWidth": 1.5, "tickColor": "#111", "domain": true, "domainColor": "#111", "domainWidth": 3, "grid": false, "zindex": 1}},
           "y": {"field": "d", "type": "quantitative", "axis": null},
           "color": {"field": "s", "type": "nominal", "legend": null}
         }},
        {"data": {"values": [{}]}, "mark": {"type": "rule", "strokeWidth": 6, "color": "#111", "strokeCap": "round"},
         "encoding": {
           "x": {"datum": 16.2, "type": "quantitative", "axis": {"orient": "top", "values": [10.75, 20, 60, 100, 140], "format": "d", "labelExpr": "datum.value < 11 ? '0' : datum.label", "title": null, "labelFontSize": 12, "labelColor": "#666", "labelPadding": 11, "labelFlush": false, "labelOverlap": false, "tickSize": 10, "tickWidth": 4, "tickColor": "#111", "tickOpacity": {"condition": {"test": "datum.value < 11", "value": 0}, "value": 1}, "domain": false, "grid": false, "zindex": 1}},
           "x2": {"datum": 18.9},
           "y": {"datum": -0.8, "type": "quantitative", "axis": null},
           "y2": {"datum": 0.9}
         }},
        {"data": {"values": [{}]}, "mark": {"type": "rule", "strokeWidth": 6, "color": "#111", "strokeCap": "round"},
         "encoding": {
           "x": {"datum": 16.2, "type": "quantitative", "axis": {"orient": "bottom", "values": [10.75, 20, 60, 100, 140], "format": "d", "labelExpr": "datum.value < 11 ? '0' : datum.label", "title": null, "labelFontSize": 12, "labelColor": "#666", "labelPadding": 11, "labelFlush": false, "labelOverlap": false, "tickSize": 10, "tickWidth": 4, "tickColor": "#111", "tickOpacity": {"condition": {"test": "datum.value < 11", "value": 0}, "value": 1}, "domain": false, "grid": false, "zindex": 1}},
           "x2": {"datum": 18.9},
           "y": {"datum": 34.1, "type": "quantitative", "axis": null},
           "y2": {"datum": 35.7}
         }},
        {"data": {"name": "labels"}, "mark": {"type": "point", "filled": true, "opacity": 1, "color": "#f8f81c", "strokeWidth": 0, "size": 40000},
         "encoding": {
           "x": {"datum": 10.1, "type": "quantitative", "axis": null},
           "y": {"field": "d", "type": "quantitative", "axis": null},
           "shape": {"field": "zone", "type": "nominal", "scale": {"domain": ["Epilimnion", "Metalimnion", "Hypolimnion"], "range": ["M-0.425,-0.1L0.425,-0.1L0.425,0.1L-0.425,0.1Z", "M-0.47,-0.1L0.47,-0.1L0.47,0.1L-0.47,0.1Z", "M-0.485,-0.1L0.485,-0.1L0.485,0.1L-0.485,0.1Z"]}, "legend": null}
         }},
        {"data": {"name": "labels"}, "mark": {"type": "text", "fontSize": 15, "fontWeight": "bold", "color": "#111", "align": "center", "baseline": "middle"},
         "encoding": {
           "x": {"datum": 10.1, "type": "quantitative", "axis": null},
           "y": {"field": "d", "type": "quantitative", "axis": null},
           "text": {"field": "zone"}
         }}
      ]
    },
    {
      "width": 188, "height": 569,
      "data": {"name": "temp"},
      "resolve": {"axis": {"x": "independent", "y": "independent"}},
      "layer": [
        {"data": {"name": "zones"}, "mark": {"type": "rect", "opacity": 0.55},
         "encoding": {
           "y": {"field": "top", "type": "quantitative", "scale": {"domain": [0, 35], "reverse": true, "nice": false, "zero": false}, "axis": null},
           "y2": {"field": "bottom"},
           "fill": {"field": "zone", "type": "nominal", "scale": {"domain": ["Epilimnion", "Metalimnion", "Hypolimnion"], "range": ["#a2f094", "#c4c4c4", "#f8f8b4"]}, "legend": null}
         }},
        {"mark": {"type": "point", "opacity": 0},
         "encoding": {
           "x": {"field": "v", "type": "quantitative", "scale": {"domain": [3.0, 20], "nice": false, "zero": false}, "axis": {"orient": "top", "values": [3.0, 4, 8, 12, 16, 20], "grid": true, "gridColor": "#999999", "domain": false, "ticks": false, "labels": false, "title": null, "zindex": 0}},
           "y": {"field": "d", "type": "quantitative", "axis": {"orient": "left", "values": [5, 10, 15, 20, 25, 30], "grid": true, "gridColor": "#999999", "domain": false, "ticks": false, "labels": false, "title": null, "zindex": 0}}
         }},
        {"mark": {"type": "point", "opacity": 0},
         "encoding": {
           "x": {"field": "v", "type": "quantitative", "axis": {"orient": "top", "values": [6, 10, 14, 18], "grid": true, "gridColor": "#999999", "gridDash": [7, 5], "domain": false, "ticks": false, "labels": false, "title": null, "zindex": 0}},
           "y": {"field": "d", "type": "quantitative", "axis": {"orient": "left", "values": [2.5, 7.5, 12.5, 17.5, 22.5, 27.5, 32.5], "grid": true, "gridColor": "#999999", "gridDash": [7, 5], "domain": false, "ticks": false, "labels": false, "title": null, "zindex": 0}}
         }},
        {"mark": {"type": "line", "strokeWidth": 2.5},
         "encoding": {
           "x": {"field": "v", "type": "quantitative", "axis": {"orient": "top", "values": [3.0, 4, 8, 12, 16, 20], "format": "d", "labelExpr": "datum.value < 3.1 ? '0' : datum.label", "title": "Temperatur (°C)", "titleFontSize": 15, "titleFontWeight": "bold", "titleColor": "#111", "titlePadding": 5, "labelFontSize": 16, "labelFontWeight": "bold", "labelColor": "#111", "labelPadding": 13, "labelFlush": false, "labelOverlap": false, "labelBound": false, "tickSize": 18, "tickWidth": 1.5, "tickColor": "#111", "domain": true, "domainColor": "#111", "domainWidth": 3, "grid": false, "zindex": 1}},
           "y": {"field": "d", "type": "quantitative", "axis": {"orient": "right", "values": [0, 2.5, 5, 7.5, 10, 12.5, 15, 17.5, 20, 22.5, 25, 27.5, 30, 32.5, 35], "format": ".3~g", "title": "Wassertiefe (m)", "titleAngle": 270, "titleBaseline": "top", "titleFontSize": 14, "titleFontWeight": "bold", "titleColor": "#111", "titlePadding": 5, "labelFontSize": 14, "labelFontWeight": "bold", "labelColor": "#111", "labelPadding": 10, "labelFlush": false, "labelOverlap": false, "tickSize": 18, "tickWidth": 3, "tickColor": "#111", "domain": true, "domainColor": "#111", "domainWidth": 3, "grid": false, "zindex": 1}},
           "order": {"field": "d", "type": "quantitative"},
           "color": {"field": "s", "type": "nominal", "scale": {"domain": ["07/2007", "08/2007", "09/2007", "10/2007", "05/2008", "07/2008", "05/2009"], "range": ["#9932cc", "#ee1c1c", "#111111", "#22dd22", "#f0f020", "#1c28e0", "#1b6b38"]},
             "legend": {"orient": "none", "legendX": 29, "legendY": 646, "direction": "vertical", "title": null, "padding": 0,
               "symbolType": "M-9.6,0L9.6,0M-9.6,0A0.5,0.5 0 1,1 -8.6,0A0.5,0.5 0 1,1 -9.6,0ZM-0.5,0A0.5,0.5 0 1,1 0.5,0A0.5,0.5 0 1,1 -0.5,0ZM8.6,0A0.5,0.5 0 1,1 9.6,0A0.5,0.5 0 1,1 8.6,0Z",
               "symbolSize": 100, "symbolStrokeWidth": 3, "symbolOffset": 37, "labelFontSize": 16, "labelColor": "#222", "labelOffset": 52, "rowPadding": 4.3,
               "encode": {"symbols": {"update": {"fill": {"signal": "datum.value=='07/2007'?'#9932cc':datum.value=='08/2007'?'#ee1c1c':datum.value=='09/2007'?'#111111':datum.value=='10/2007'?'#22dd22':datum.value=='05/2008'?'#f0f020':datum.value=='07/2008'?'#1c28e0':'#1b6b38'"}, "strokeDash": {"signal": "datum.value=='07/2007' || datum.value=='10/2007' ? [1,0] : [14,9]"}}}}}},
           "strokeDash": {"field": "s", "type": "nominal", "scale": {"domain": ["07/2007", "08/2007", "09/2007", "10/2007", "05/2008", "07/2008", "05/2009"], "range": [[1, 0], [8, 5], [8, 5], [1, 0], [8, 5], [8, 5], [8, 5]]}, "legend": null}
         }},
        {"mark": {"type": "point", "filled": true, "size": 42, "opacity": 1},
         "encoding": {
           "x": {"field": "v", "type": "quantitative", "axis": {"orient": "bottom", "values": [3.0, 4, 8, 12, 16, 20], "format": "d", "labelExpr": "datum.value < 3.1 ? '0' : datum.label", "title": "Temperatur (°C)", "titleFontSize": 15, "titleFontWeight": "bold", "titleColor": "#111", "titlePadding": 1, "labelFontSize": 16, "labelFontWeight": "bold", "labelColor": "#111", "labelPadding": 10, "labelFlush": false, "labelOverlap": false, "labelBound": false, "tickSize": 18, "tickWidth": 1.5, "tickColor": "#111", "domain": true, "domainColor": "#111", "domainWidth": 3, "grid": false, "zindex": 1}},
           "y": {"field": "d", "type": "quantitative", "axis": null},
           "color": {"field": "s", "type": "nominal", "legend": null}
         }},
        {"data": {"values": [{}]}, "mark": {"type": "rule", "strokeWidth": 6, "color": "#111", "strokeCap": "round"},
         "encoding": {
           "x": {"datum": 3.6, "type": "quantitative", "axis": {"orient": "top", "values": [3.0, 6, 10, 14, 18], "format": "d", "labelExpr": "datum.value < 3.1 ? '0' : datum.label", "title": null, "labelFontSize": 12, "labelColor": "#666", "labelPadding": 11, "labelFlush": false, "labelOverlap": false, "tickSize": 10, "tickWidth": 4, "tickColor": "#111", "tickOpacity": {"condition": {"test": "datum.value < 3.1", "value": 0}, "value": 1}, "domain": false, "grid": false, "zindex": 1}},
           "x2": {"datum": 3.95},
           "y": {"datum": -0.8, "type": "quantitative", "axis": null},
           "y2": {"datum": 0.9}
         }},
        {"data": {"values": [{}]}, "mark": {"type": "rule", "strokeWidth": 6, "color": "#111", "strokeCap": "round"},
         "encoding": {
           "x": {"datum": 3.6, "type": "quantitative", "axis": {"orient": "bottom", "values": [3.0, 6, 10, 14, 18], "format": "d", "labelExpr": "datum.value < 3.1 ? '0' : datum.label", "title": null, "labelFontSize": 12, "labelColor": "#666", "labelPadding": 11, "labelFlush": false, "labelOverlap": false, "tickSize": 10, "tickWidth": 4, "tickColor": "#111", "tickOpacity": {"condition": {"test": "datum.value < 3.1", "value": 0}, "value": 1}, "domain": false, "grid": false, "zindex": 1}},
           "x2": {"datum": 3.95},
           "y": {"datum": 34.1, "type": "quantitative", "axis": null},
           "y2": {"datum": 35.7}
         }}
      ]
    }
  ]
}
